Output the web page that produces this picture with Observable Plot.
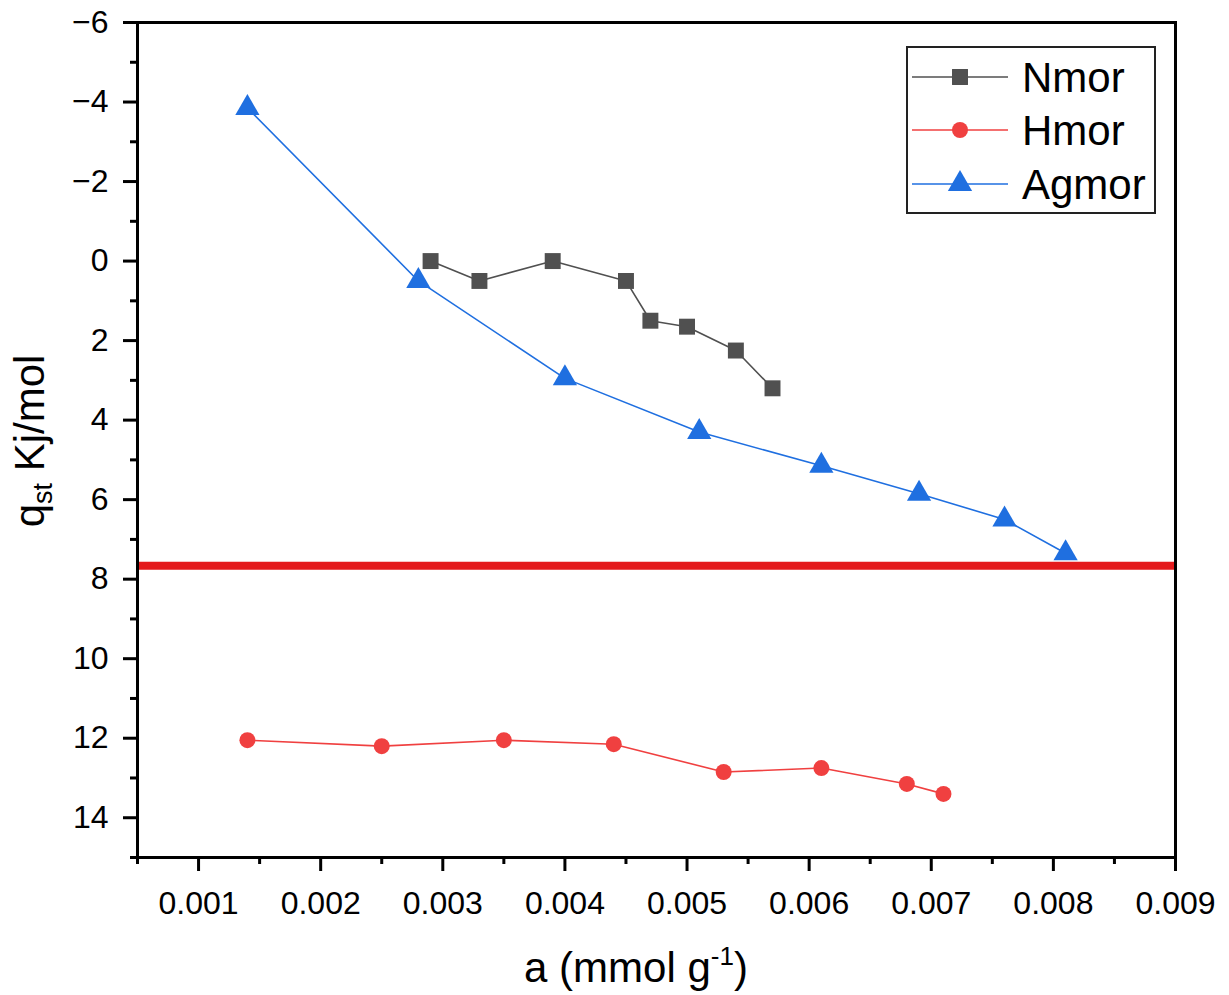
<!DOCTYPE html>
<html>
<head>
<meta charset="utf-8">
<script src="https://cdn.jsdelivr.net/npm/d3@7"></script>
<script src="https://cdn.jsdelivr.net/npm/@observablehq/plot@0.6"></script>
<style>
  html, body { margin: 0; padding: 0; background: #fff; }
  #chart { width: 1229px; height: 995px; }
</style>
</head>
<body>
<div id="chart"></div>
<script>
// Isosteric heat of adsorption vs. amount adsorbed for three mordenite samples
const seriesNames = ["Nmor", "Hmor", "Agmor"];
const seriesColors = ["#505050", "#f04040", "#1f6fe0"];
const seriesSymbols = ["square", "circle", "triangle"];
const seriesRadius = [9, 8, 9];

const nmorA  = [0.0029, 0.0033, 0.0039, 0.0045, 0.0047, 0.0050, 0.0054, 0.0057];
const nmorQ  = [0.0, 0.5, 0.0, 0.5, 1.5, 1.65, 2.25, 3.2];
const hmorA  = [0.0014, 0.0025, 0.0035, 0.0044, 0.0053, 0.0061, 0.0068, 0.0071];
const hmorQ  = [12.05, 12.2, 12.05, 12.15, 12.85, 12.75, 13.15, 13.4];
const agmorA = [0.0014, 0.0028, 0.0040, 0.0051, 0.0061, 0.0069, 0.0076, 0.0081];
const agmorQ = [-3.85, 0.5, 2.95, 4.3, 5.15, 5.85, 6.5, 7.35];

// horizontal reference level
const refQ = 7.66;

// axes
const xDomain = [0.0005, 0.009];
const yDomain = [-6, 15];
const xTicks = [0.001, 0.002, 0.003, 0.004, 0.005, 0.006, 0.007, 0.008, 0.009];
const xMinorTicks = [0.0005, 0.0015, 0.0025, 0.0035, 0.0045, 0.0055, 0.0065, 0.0075, 0.0085];
const yTicks = [-6, -4, -2, 0, 2, 4, 6, 8, 10, 12, 14];
const yMinorTicks = [-5, -3, -1, 1, 3, 5, 7, 9, 11, 13, 15];

const xTitle = ["a (mmol g", "-1", ")"];
const yTitle = ["q", "st", " Kj/mol"];

const W = 1229, H = 995;
const FONT = '"Liberation Sans", Arial, Helvetica, sans-serif';

const columns = [[nmorA, nmorQ], [hmorA, hmorQ], [agmorA, agmorQ]];
const rows = columns.flatMap(([as, qs], k) =>
  as.map((a, i) => ({ series: seriesNames[k], a, q: qs[i] })));
const bySeries = name => rows.filter(d => d.series === name);

const plot = Plot.plot({
  width: W,
  height: H,
  marginTop: 22,
  marginRight: 54,
  marginBottom: 138,
  marginLeft: 137,
  style: { fontFamily: FONT, fontSize: "32px", color: "#000", background: "#fff", overflow: "visible" },
  x: { domain: xDomain },
  y: { domain: yDomain, reverse: true },
  marks: [
    Plot.ruleY([refQ], { stroke: "#e41a1c", strokeWidth: 8 }),
    ...seriesNames.map((name, k) =>
      Plot.line(bySeries(name), { x: "a", y: "q", stroke: seriesColors[k], strokeWidth: 1.6 })),
    ...seriesNames.map((name, k) =>
      Plot.dot(bySeries(name), { x: "a", y: "q", symbol: seriesSymbols[k], r: seriesRadius[k], fill: seriesColors[k], stroke: "none" })),
    Plot.axisX({ ticks: xMinorTicks, tickSize: 7, strokeWidth: 3, fill: "none", label: null }),
    Plot.axisX({ ticks: xTicks, tickSize: 14, tickPadding: 20, strokeWidth: 3, tickFormat: d3.format(".3f"), fontSize: 32, label: null }),
    Plot.axisY({ ticks: yMinorTicks, tickSize: 7, strokeWidth: 3, fill: "none", label: null }),
    Plot.axisY({ ticks: yTicks, tickSize: 14, tickPadding: 15, strokeWidth: 3, fontSize: 32, label: null }),
    Plot.frame({ stroke: "#000", strokeWidth: 3 })
  ]
});

const svg = d3.select(plot);

// x-axis title with superscript
const xt = svg.append("text")
  .attr("x", 636).attr("y", 982)
  .attr("text-anchor", "middle")
  .attr("font-family", FONT)
  .attr("font-size", 42)
  .attr("fill", "#000");
xt.append("tspan").text(xTitle[0]);
xt.append("tspan").attr("font-size", 26).attr("dy", -17).text(xTitle[1]);
xt.append("tspan").attr("dy", 17).text(xTitle[2]);

// y-axis title with subscript
const yt = svg.append("text")
  .attr("transform", "translate(44,441) rotate(-90)")
  .attr("text-anchor", "middle")
  .attr("font-family", FONT)
  .attr("font-size", 42)
  .attr("fill", "#000");
yt.append("tspan").text(yTitle[0]);
yt.append("tspan").attr("font-size", 27).attr("dy", 8).text(yTitle[1]);
yt.append("tspan").attr("dy", -8).text(yTitle[2]);

// legend box
const lg = svg.append("g").attr("font-family", FONT).attr("text-anchor", "start");
lg.append("rect")
  .attr("x", 907).attr("y", 47).attr("width", 248).attr("height", 166)
  .attr("fill", "#fff").attr("stroke", "#222").attr("stroke-width", 2);
const rowY = [77, 130, 184];
const symbolTypes = { square: d3.symbolSquare, circle: d3.symbolCircle, triangle: d3.symbolTriangle };
seriesNames.forEach((name, k) => {
  const g = lg.append("g").attr("transform", `translate(0,${rowY[k]})`);
  g.append("line").attr("x1", 912).attr("x2", 1008).attr("y1", 0).attr("y2", 0)
    .attr("stroke", seriesColors[k]).attr("stroke-width", 1.6);
  g.append("path")
    .attr("transform", "translate(960,0)")
    .attr("d", d3.symbol(symbolTypes[seriesSymbols[k]], Math.PI * seriesRadius[k] ** 2)())
    .attr("fill", seriesColors[k]);
  g.append("text").attr("x", 1022).attr("y", 15)
    .attr("text-anchor", "start")
    .attr("font-size", 42).attr("fill", "#000").text(name);
});

document.getElementById("chart").appendChild(plot);
</script>
</body>
</html>
